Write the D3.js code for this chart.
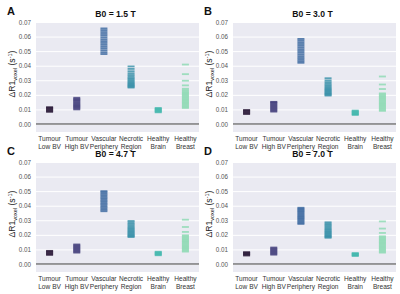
<!DOCTYPE html>
<html>
<head>
<meta charset="utf-8">
<script src="https://cdn.jsdelivr.net/npm/d3@7"></script>
<style>
  body { margin: 0; background: #fff; }
  svg { font-family: "Liberation Sans", Arial, sans-serif; }
  .tick line { stroke: #fff; stroke-width: 1; }
  .domain { display: none; }
</style>
</head>
<body>
<svg id="chart" width="400" height="294"></svg>
<script>
// categories and tick labels
const categories = ["Tumour Low BV", "Tumour High BV", "Vascular Periphery", "Necrotic Region", "Healthy Brain", "Healthy Breast"];
const catLines = [["Tumour", "Low BV"], ["Tumour", "High BV"], ["Vascular", "Periphery"], ["Necrotic", "Region"], ["Healthy", "Brain"], ["Healthy", "Breast"]];
const yTicks = [0.00, 0.01, 0.02, 0.03, 0.04, 0.05, 0.06, 0.07];
const titles = ["B0 = 1.5 T", "B0 = 3.0 T", "B0 = 4.7 T", "B0 = 7.0 T"];
const letters = ["A", "B", "C", "D"];
const colors = ["#2e1e3c", "#413d7b", "#37659e", "#348fa7", "#40b7ad", "#8bdab2"];

// delta R1 voxel values (s^-1), one array per category
const b15 = [
  [0.0083, 0.0089, 0.0095, 0.0101, 0.0107, 0.0112, 0.0115],
  [0.0100, 0.0108, 0.0115, 0.0122, 0.0128, 0.0135, 0.0142, 0.0150, 0.0158, 0.0165, 0.0172, 0.0180],
  [0.0480, 0.0492, 0.0505, 0.0518, 0.0530, 0.0543, 0.0556, 0.0568, 0.0580, 0.0593, 0.0606, 0.0618, 0.0631, 0.0644, 0.0656],
  [0.0250, 0.0256, 0.0262, 0.0268, 0.0275, 0.0282, 0.0290, 0.0298, 0.0306, 0.0315, 0.0325, 0.0336, 0.0348, 0.0362, 0.0378, 0.0395],
  [0.0080, 0.0086, 0.0092, 0.0098, 0.0104, 0.0110],
  [0.0110, 0.0118, 0.0126, 0.0134, 0.0142, 0.0150, 0.0158, 0.0166, 0.0174, 0.0182, 0.0190, 0.0198, 0.0206, 0.0214, 0.0222, 0.0232, 0.0242, 0.0265, 0.0297, 0.0342, 0.0408]
];
const b30 = [
  [0.0068, 0.0074, 0.0080, 0.0086, 0.0092, 0.0096],
  [0.0085, 0.0092, 0.0099, 0.0106, 0.0113, 0.0120, 0.0127, 0.0134, 0.0141, 0.0148, 0.0152],
  [0.0420, 0.0431, 0.0442, 0.0453, 0.0465, 0.0477, 0.0489, 0.0501, 0.0513, 0.0525, 0.0537, 0.0549, 0.0561, 0.0573, 0.0584],
  [0.0195, 0.0201, 0.0207, 0.0213, 0.0220, 0.0227, 0.0234, 0.0241, 0.0249, 0.0257, 0.0266, 0.0276, 0.0287, 0.0299, 0.0314],
  [0.0062, 0.0068, 0.0074, 0.0080, 0.0086, 0.0092],
  [0.0090, 0.0098, 0.0106, 0.0114, 0.0122, 0.0130, 0.0138, 0.0146, 0.0154, 0.0162, 0.0170, 0.0178, 0.0186, 0.0194, 0.0202, 0.0210, 0.0240, 0.0271, 0.0326]
];
const b47 = [
  [0.0062, 0.0068, 0.0074, 0.0080, 0.0086, 0.0090],
  [0.0078, 0.0085, 0.0092, 0.0099, 0.0106, 0.0113, 0.0120, 0.0127, 0.0134],
  [0.0362, 0.0372, 0.0382, 0.0392, 0.0402, 0.0412, 0.0422, 0.0432, 0.0442, 0.0452, 0.0462, 0.0472, 0.0482, 0.0492, 0.0500],
  [0.0185, 0.0191, 0.0197, 0.0203, 0.0210, 0.0217, 0.0224, 0.0231, 0.0239, 0.0247, 0.0256, 0.0265, 0.0275, 0.0285, 0.0295],
  [0.0060, 0.0066, 0.0072, 0.0078, 0.0084],
  [0.0085, 0.0093, 0.0101, 0.0109, 0.0117, 0.0125, 0.0133, 0.0141, 0.0149, 0.0157, 0.0165, 0.0173, 0.0181, 0.0189, 0.0197, 0.0220, 0.0254, 0.0304]
];
const b70 = [
  [0.0058, 0.0063, 0.0068, 0.0073, 0.0078, 0.0081],
  [0.0064, 0.0071, 0.0078, 0.0085, 0.0092, 0.0099, 0.0106, 0.0113],
  [0.0275, 0.0283, 0.0291, 0.0299, 0.0307, 0.0315, 0.0323, 0.0331, 0.0339, 0.0347, 0.0355, 0.0363, 0.0371, 0.0379, 0.0386],
  [0.0180, 0.0186, 0.0192, 0.0198, 0.0205, 0.0212, 0.0219, 0.0226, 0.0234, 0.0242, 0.0250, 0.0259, 0.0268, 0.0277, 0.0286],
  [0.0055, 0.0060, 0.0065, 0.0070, 0.0075],
  [0.0078, 0.0086, 0.0094, 0.0102, 0.0110, 0.0118, 0.0126, 0.0134, 0.0142, 0.0150, 0.0158, 0.0166, 0.0174, 0.0182, 0.0190, 0.0213, 0.0243, 0.0292]
];
const panelData = [b15, b30, b47, b70];

const svg = d3.select("#chart");
const pw = 163, ph = 110;
// top-left corner of each plot area
const origins = [[36, 22], [233, 22], [36, 162], [233, 162]];

function drawPanel(i) {
  const [ox, oy] = origins[i];
  const g = svg.append("g").attr("transform", `translate(${ox},${oy})`);

  let x = d3.scaleBand().domain(categories).range([0, pw]);
  let y = d3.scaleLinear().domain([-0.0055, 0.07]).range([ph, 0]);

  g.append("rect").attr("width", pw).attr("height", ph).attr("fill", "#eaeaf2");

  // y axis + white grid
  let yAxis = d3.axisLeft(y).tickValues(yTicks).tickFormat(d3.format(".2f"))
    .tickSize(-pw).tickPadding(5);
  g.append("g").call(yAxis)
    .call(a => a.selectAll("text").attr("fill", "#555").attr("font-size", "6.3px"));

  // zero line
  g.append("line").attr("x1", 0).attr("x2", pw)
    .attr("y1", y(0)).attr("y2", y(0))
    .attr("stroke", "#3a3a3a").attr("stroke-width", 1.1);

  // strip markers (horizontal dashes)
  categories.forEach((c, k) => {
    g.append("g").selectAll("rect")
      .data(panelData[i][k])
      .enter().append("rect")
      .attr("x", x(c) + x.bandwidth() / 2 - 3.5)
      .attr("y", d => y(d) - 0.9)
      .attr("width", 7)
      .attr("height", 1.8)
      .attr("fill", colors[k])
      .attr("opacity", 0.8);
  });

  // x labels, two lines
  let xl = g.append("g").attr("font-size", "6.6px").attr("fill", "#333").attr("text-anchor", "middle");
  catLines.forEach((ln, k) => {
    let t = xl.append("text").attr("x", x(categories[k]) + x.bandwidth() / 2).attr("y", ph + 9);
    t.append("tspan").text(ln[0]);
    t.append("tspan").attr("x", x(categories[k]) + x.bandwidth() / 2).attr("dy", 8.2).text(ln[1]);
  });

  // title
  svg.append("text").attr("x", ox + pw / 2 - 2).attr("y", oy - 5)
    .attr("text-anchor", "middle").attr("font-size", "8.6px").attr("font-weight", "bold")
    .attr("fill", "#111").text(titles[i]);

  // panel letter
  svg.append("text").attr("x", ox - 29).attr("y", oy - 7)
    .attr("font-size", "11px").attr("font-weight", "bold").attr("fill", "#111").text(letters[i]);

  // y label
  let yl = svg.append("text")
    .attr("transform", `translate(${ox - 21},${oy + 52}) rotate(-90)`)
    .attr("text-anchor", "middle").attr("font-size", "8.6px").attr("fill", "#222");
  yl.append("tspan").text("ΔR1");
  yl.append("tspan").attr("font-size", "5.5px").attr("dy", 2).text("voxel");
  yl.append("tspan").attr("dy", -2).text(" (s");
  yl.append("tspan").attr("font-size", "5.5px").attr("dy", -3).text("-1");
  yl.append("tspan").attr("dy", 3).text(")");
}

for (let i = 0; i < 4; i++) drawPanel(i);
</script>
</body>
</html>
